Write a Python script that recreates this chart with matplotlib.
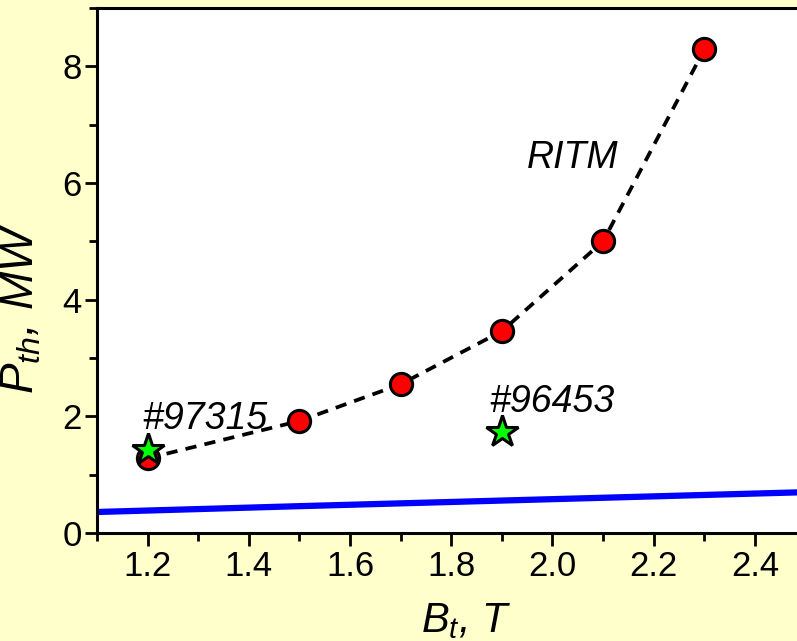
import numpy as np
import matplotlib.pyplot as plt
from matplotlib.ticker import MultipleLocator

plt.rcParams['font.family'] = ['Liberation Sans', 'DejaVu Sans']
plt.rcParams['mathtext.fontset'] = 'custom'
plt.rcParams['mathtext.it'] = 'Liberation Sans:italic'
plt.rcParams['mathtext.rm'] = 'Liberation Sans'

# RITM threshold power vs toroidal field
b_ritm = [1.2, 1.5, 1.7, 1.9, 2.1, 2.3]
p_ritm = [1.28, 1.92, 2.55, 3.46, 5.0, 8.29]

# individual shots
b_shots = [1.2, 1.9]
p_shots = [1.42, 1.73]
shot_names = ["#97315", "#96453"]

# scaling line
b_scal = [1.1, 1.5, 2.0, 2.5]
p_scal = [0.36, 0.46, 0.58, 0.70]

fig = plt.figure(figsize=(7.97, 6.41), dpi=100, facecolor="#ffffcc")
ax = fig.add_axes([0.1217, 0.1685, 0.889, 0.819])
ax.set_facecolor("white")

ax.plot(b_scal, p_scal, color="#0000ff", lw=4.5, solid_capstyle="butt", zorder=2)
ax.plot(b_ritm, p_ritm, color="black", lw=2.7, ls=(0, (3.0, 2.2)), zorder=2)
ax.plot(b_ritm, p_ritm, ls="none", marker="o", ms=16, mfc="#ff0000",
        mec="black", mew=2.2, zorder=3)
ax.plot(b_shots, p_shots, ls="none", marker="*", ms=24, mfc="#00ff00",
        mec="black", mew=2.2, zorder=4)

ax.text(1.19, 1.78, shot_names[0], fontsize=27, style="italic")
ax.text(1.876, 2.07, shot_names[1], fontsize=27, style="italic")
ax.text(1.95, 6.25, "RITM", fontsize=27, style="italic")

ax.set_xlim(1.1, 2.5)
ax.set_ylim(0, 9)
ax.xaxis.set_major_locator(MultipleLocator(0.2))
ax.xaxis.set_minor_locator(MultipleLocator(0.1))
ax.yaxis.set_major_locator(MultipleLocator(2))
ax.yaxis.set_minor_locator(MultipleLocator(1))
ax.set_xticks([1.2, 1.4, 1.6, 1.8, 2.0, 2.2, 2.4])
ax.set_xticklabels(["1.2", "1.4", "1.6", "1.8", "2.0", "2.2", "2.4"])

ax.tick_params(which="both", direction="out", width=2, labelsize=25,
               top=False, right=False)
ax.tick_params(which="major", length=9)
ax.tick_params(which="minor", length=5.5)
ax.tick_params(axis="x", pad=3)
ax.tick_params(axis="y", pad=2)

for side in ["left", "bottom", "top"]:
    ax.spines[side].set_linewidth(2.2)
ax.spines["right"].set_visible(False)

ax.set_xlabel(r"$B_t$, $T$", fontsize=30, style="italic")
ax.set_ylabel(r"$P_{th}$, $MW$", fontsize=33, style="italic")
ax.xaxis.set_label_coords(0.521, -0.130)
ax.yaxis.set_label_coords(-0.076, 0.427)

fig.savefig("out.png", dpi=100, facecolor=fig.get_facecolor())
